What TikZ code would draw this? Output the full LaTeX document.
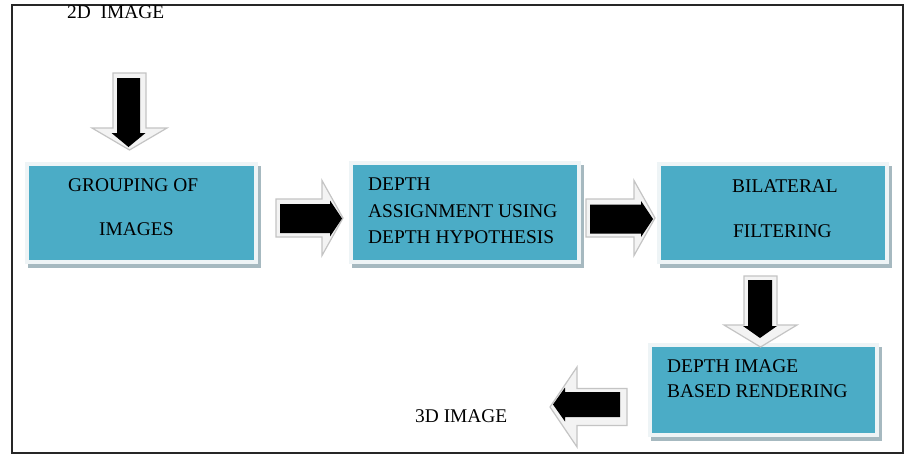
\documentclass[tikz,border=0pt]{standalone}
\usepackage{fontspec}
\setmainfont{Liberation Serif}
\usetikzlibrary{shadows,calc}
\definecolor{boxteal}{HTML}{4BACC6}
\definecolor{boxrim}{HTML}{EEF4F6}
\definecolor{boxshade}{HTML}{A6B9C0}
\definecolor{arrowfill}{HTML}{F3F3F3}
\definecolor{arrowedge}{HTML}{C4C4C4}
% #1 start coordinate, #2 angle, #3 length, #4 shaft half width, #5 head half width, #6 head length, #7 style
\newcommand\blkarrow[7]{%
  \begin{scope}[shift={(#1)},rotate=#2]
    \path[#7] (0,-#4) -- (#3-#6,-#4) -- (#3-#6,-#5) -- (#3,0) -- (#3-#6,#5) -- (#3-#6,#4) -- (0,#4) -- cycle;
  \end{scope}}
\begin{document}
\begin{tikzpicture}[x=1pt,y=-1pt,
  stepbox/.style={rectangle, fill=boxrim, inner sep=0pt, draw=none,
    general shadow={fill=boxshade, shadow xshift=3pt, shadow yshift=-4pt},
    path picture={\fill[boxteal] ([xshift=4pt,yshift=-4pt]path picture bounding box.north west) rectangle ([xshift=-4pt,yshift=4pt]path picture bounding box.south east);}},
  lbl/.style={anchor=base west, inner sep=0pt, font=\fontsize{19.4}{23}\selectfont, text=black},
  outerarrow/.style={fill=arrowfill, draw=arrowedge, line width=1.2pt, line join=miter},
  innerarrow/.style={fill=black, draw=none}]
\useasboundingbox (0,0) rectangle (908,458);
\fill[white] (0,0) rectangle (908,458);
\draw[line width=1.5pt, black!85] (12,5) rectangle (903,453);

% boxes
\node[stepbox, minimum width=233pt, minimum height=102pt] (b1) at (141.5,213) {};
\node[stepbox, minimum width=232pt, minimum height=103pt] (b2) at (465,212.5) {};
\node[stepbox, minimum width=232pt, minimum height=102pt] (b3) at (773,213) {};
\node[stepbox, minimum width=231pt, minimum height=94pt] (b4) at (763.5,390) {};

% labels
\node[lbl] (t2d) at (67,18) {2D\ \ IMAGE};
\node[lbl] (t1a) at (68,191) {GROUPING OF};
\node[lbl] (t1b) at (99,235) {IMAGES};
\node[lbl] (t2a) at (368,190) {DEPTH};
\node[lbl] (t2b) at (368,217) {ASSIGNMENT USING};
\node[lbl] (t2c) at (368,243) {DEPTH HYPOTHESIS};
\node[lbl] (t3a) at (732,192) {BILATERAL};
\node[lbl] (t3b) at (733,237) {FILTERING};
\node[lbl] (t4a) at (667,372) {DEPTH IMAGE};
\node[lbl] (t4b) at (667,397) {BASED RENDERING};
\node[lbl] (t3d) at (415,422) {3D IMAGE};

% arrow start points
\coordinate (a1o) at (129.5,73);  \coordinate (a1i) at (128.5,78);
\coordinate (a2o) at (276,218);   \coordinate (a2i) at (280,218.5);
\coordinate (a3o) at (586,218);   \coordinate (a3i) at (590,219);
\coordinate (a4o) at (760.5,276); \coordinate (a4i) at (760,280);
\coordinate (a5o) at (627,407);   \coordinate (a5i) at (620,404.5);

\blkarrow{a1o}{-90}{77}{16.5}{37.5}{22}{outerarrow}
\blkarrow{a1i}{-90}{69}{11.5}{17}{14}{innerarrow}
\blkarrow{a2o}{0}{67}{19}{37.5}{21}{outerarrow}
\blkarrow{a2i}{0}{62}{14.5}{18}{12}{innerarrow}
\blkarrow{a3o}{0}{69}{19}{37.5}{21}{outerarrow}
\blkarrow{a3i}{0}{63}{14.5}{18}{12}{innerarrow}
\blkarrow{a4o}{-90}{71}{16.5}{36.5}{22}{outerarrow}
\blkarrow{a4i}{-90}{58}{12}{17}{12}{innerarrow}
\blkarrow{a5o}{180}{77}{18.5}{40}{27}{outerarrow}
\blkarrow{a5i}{180}{67}{12.5}{17}{12}{innerarrow}
\end{tikzpicture}
\end{document}
